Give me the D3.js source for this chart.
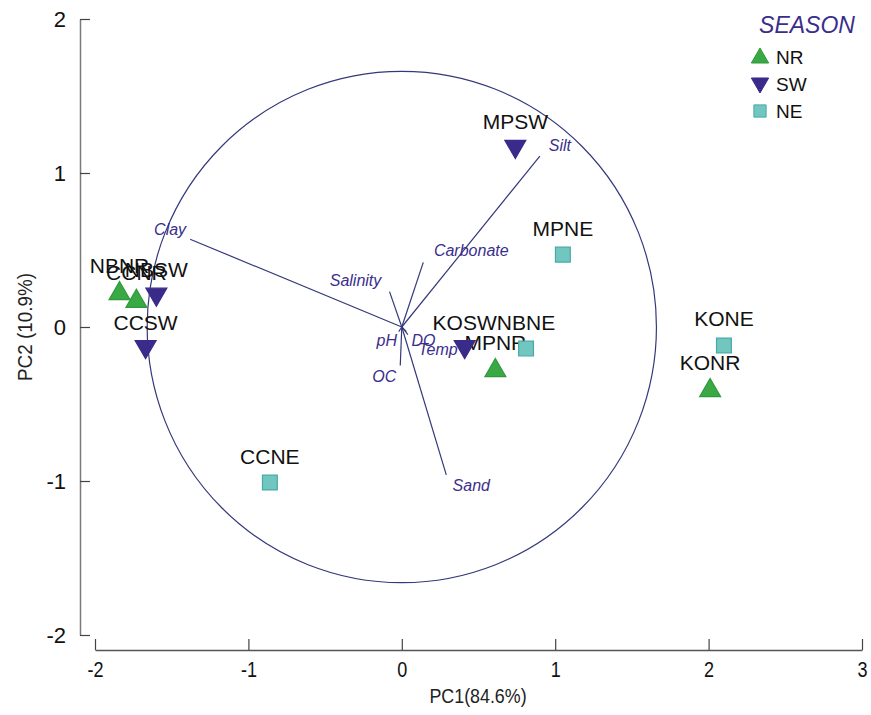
<!DOCTYPE html>
<html>
<head>
<meta charset="utf-8">
<script src="https://cdn.jsdelivr.net/npm/d3@7"></script>
<style>
  body { margin: 0; background: #fff; }
  text { font-family: "Liberation Sans", Arial, sans-serif; }
</style>
</head>
<body>
<script>
// site scores
const sites  = ["NBNR", "CCNR", "NBSW", "CCSW", "CCNE", "MPSW", "MPNE", "KOSW", "NBNE", "MPNR", "KONE", "KONR"];
const season = ["NR", "NR", "SW", "SW", "NE", "SW", "NE", "SW", "NE", "NR", "NE", "NR"];
const pc1    = [-1.84, -1.73, -1.60, -1.67, -0.86, 0.74, 1.05, 0.41, 0.81, 0.61, 2.10, 2.01];
const pc2    = [0.23, 0.18, 0.20, -0.14, -1.01, 1.16, 0.47, -0.14, -0.14, -0.27, -0.12, -0.40];

// variable loadings (scaled to plot)
const varNames = ["Clay", "Silt", "Carbonate", "Salinity", "OC", "Sand", "pH", "DO", "Temp"];
const varPC1   = [-1.38, 0.90, 0.14, -0.08, -0.01, 0.29, -0.02, 0.03, 0.04];
const varPC2   = [0.57, 1.11, 0.42, 0.23, -0.25, -0.96, -0.03, -0.03, -0.05];
const circleR = 1.66;

const seasons = ["NR", "SW", "NE"];
const xTicks = [-2, -1, 0, 1, 2, 3];
const yTicks = [-2, -1, 0, 1, 2];

// label offsets (px) for variable names, relative to arrow tip
const varLabelOffset = {
  Clay: [-20, -10], Silt: [20, -11], Carbonate: [48, -12], Salinity: [-34, -11],
  OC: [-16, 11], Sand: [25, 11], pH: [-12, 9], DO: [17, 9], Temp: [30, 15]
};

const width = 871, height = 715;
const x = d3.scaleLinear().domain([-2, 3]).range([95, 862]);
const y = d3.scaleLinear().domain([-2, 2]).range([635, 19]);

const svg = d3.select("body").append("svg")
  .attr("width", width)
  .attr("height", height);

const axisColor = "#7a7a7a";
const navy = "#3a2e8c";
const fmt = d => String(d);

// y axis (ticks pointing inward)
const yAxis = svg.append("g")
  .attr("transform", `translate(${80},0)`)
  .call(d3.axisRight(y).tickValues(yTicks).tickSize(10).tickSizeOuter(0).tickFormat(fmt));
yAxis.select(".domain").attr("stroke", axisColor).attr("stroke-width", 1.5);
yAxis.selectAll(".tick line").attr("stroke", "#444").attr("stroke-width", 1.2);
yAxis.selectAll(".tick text")
  .attr("x", -14).attr("text-anchor", "end").attr("dy", "0.36em")
  .attr("fill", "#111")
  .style("font-size", "22px");

// x axis (ticks pointing up)
const xAxis = svg.append("g")
  .attr("transform", `translate(0,${650})`)
  .call(d3.axisBottom(x).tickValues(xTicks).tickSize(0).tickSizeOuter(0).tickFormat(fmt));
xAxis.select(".domain").attr("stroke", "#555").attr("stroke-width", 1.3);
xAxis.selectAll(".tick line").attr("y2", -11).attr("stroke", "#444").attr("stroke-width", 1.2);
xAxis.selectAll(".tick text")
  .attr("y", 0).attr("dy", 0)
  .attr("transform", "translate(0,27) scale(0.82,1)")
  .attr("fill", "#111")
  .style("font-size", "22px");

// axis titles
svg.append("text")
  .attr("transform", "translate(478,703) scale(0.85,1)")
  .attr("text-anchor", "middle")
  .style("font-size", "21px")
  .attr("fill", "#222")
  .text("PC1(84.6%)");

svg.append("text")
  .attr("transform", `translate(32,327) rotate(-90) scale(0.9,1)`)
  .attr("text-anchor", "middle")
  .style("font-size", "21px")
  .attr("fill", "#222")
  .text("PC2 (10.9%)");

// correlation circle
svg.append("ellipse")
  .attr("cx", x(0)).attr("cy", y(0))
  .attr("rx", x(circleR) - x(0))
  .attr("ry", y(0) - y(circleR))
  .attr("fill", "none")
  .attr("stroke", "#34397a")
  .attr("stroke-width", 1.2);

// variable vectors
const vars = varNames.map((n, i) => ({ name: n, x: varPC1[i], y: varPC2[i] }));
svg.append("g").selectAll("line")
  .data(vars)
  .join("line")
  .attr("x1", x(0)).attr("y1", y(0))
  .attr("x2", d => x(d.x)).attr("y2", d => y(d.y))
  .attr("stroke", "#34397a")
  .attr("stroke-width", 1.2);

svg.append("g").selectAll("text")
  .data(vars)
  .join("text")
  .attr("x", d => x(d.x) + varLabelOffset[d.name][0])
  .attr("y", d => y(d.y) + varLabelOffset[d.name][1])
  .attr("dy", "0.35em")
  .attr("text-anchor", "middle")
  .attr("fill", navy)
  .style("font-style", "italic")
  .style("font-size", "16px")
  .text(d => d.name);

// point styles per season
const fillColor = { NR: "#39a845", SW: "#3a2a8a", NE: "#72c6c0" };
const strokeColor = { NR: "#2f9a3c", SW: "#3a2a8a", NE: "#48aaa5" };
const symType = { NR: d3.symbolTriangle, SW: d3.symbolTriangle, NE: d3.symbolSquare };
const symRot = { NR: 0, SW: 180, NE: 0 };
const symSize = { NR: 190, SW: 190, NE: 220 };

const points = sites.map((s, i) => ({ site: s, season: season[i], x: pc1[i], y: pc2[i] }));

// site labels
svg.append("g").selectAll("text")
  .data(points)
  .join("text")
  .attr("x", d => x(d.x))
  .attr("y", d => y(d.y) - 19)
  .attr("text-anchor", "middle")
  .attr("fill", "#111")
  .style("font-size", "21px")
  .text(d => d.site);

svg.append("g").selectAll("path")
  .data(points)
  .join("path")
  .attr("transform", d => `translate(${x(d.x)},${y(d.y) + (d.season === "SW" ? -2 : d.season === "NR" ? 2 : 0)}) rotate(${symRot[d.season]})`)
  .attr("d", d => d3.symbol(symType[d.season], symSize[d.season])())
  .attr("fill", d => fillColor[d.season])
  .attr("stroke", d => strokeColor[d.season])
  .attr("stroke-width", 1.2);

// legend
const legend = svg.append("g").attr("transform", "translate(760,0)");
legend.append("text")
  .attr("x", 47).attr("y", 33)
  .attr("text-anchor", "middle")
  .attr("fill", navy)
  .style("font-style", "italic")
  .style("font-size", "23px")
  .text("SEASON");

const li = legend.selectAll("g.item")
  .data(seasons)
  .join("g")
  .attr("class", "item")
  .attr("transform", (d, i) => `translate(0,${57 + i * 27})`);
li.append("path")
  .attr("transform", d => `translate(0,${d === "NR" ? 1 : d === "SW" ? -1 : 0}) rotate(${symRot[d]})`)
  .attr("d", d => d3.symbol(symType[d], d === "NE" ? 150 : 130)())
  .attr("fill", d => fillColor[d])
  .attr("stroke", d => strokeColor[d])
  .attr("stroke-width", 1);
li.append("text")
  .attr("x", 16).attr("dy", "0.36em")
  .attr("fill", "#111")
  .style("font-size", "19px")
  .text(d => d);
</script>
</body>
</html>
